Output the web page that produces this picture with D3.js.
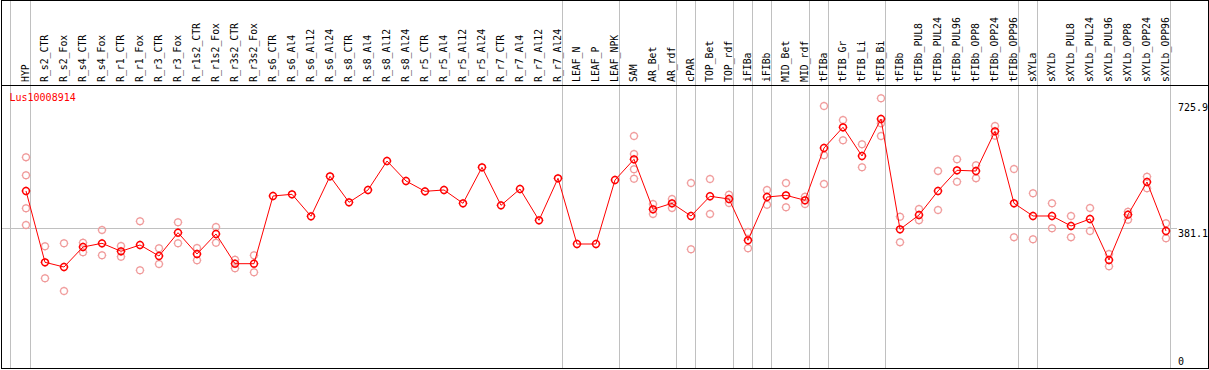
<!DOCTYPE html>
<html>
  <head>
    <meta charset="UTF-8" />
    <title>Lus10008914 expression</title>
    <script src="https://cdnjs.cloudflare.com/ajax/libs/d3/7.8.5/d3.min.js"></script>
    <style>
      body {
        margin: 0;
        padding: 0;
        background: #fff;
      }
      svg {
        display: block;
        font-family: "DejaVu Sans Mono", monospace;
      }
      .grid {
        stroke: #c0c0c0;
        stroke-width: 1px;
        shape-rendering: crispEdges;
      }
      .frame {
        stroke: #000;
        stroke-width: 1px;
        fill: none;
        shape-rendering: crispEdges;
      }
      .colLabel {
        font-size: 9.8px;
        fill: #000;
      }
      .tickLabel {
        font-size: 10px;
        fill: #000;
      }
    </style>
  </head>

  <body>
    <svg id="chart" width="1209" height="370"></svg>

    <script>
      // sample names, left to right
      const categories = [
        "HYP", "R_s2_CTR", "R_s2_Fox", "R_s4_CTR", "R_s4_Fox", "R_r1_CTR", "R_r1_Fox",
        "R_r3_CTR", "R_r3_Fox", "R_r1s2_CTR", "R_r1s2_Fox", "R_r3s2_CTR", "R_r3s2_Fox",
        "R_s6_CTR", "R_s6_Al4", "R_s6_Al12", "R_s6_Al24", "R_s8_CTR", "R_s8_Al4", "R_s8_Al12",
        "R_s8_Al24", "R_r5_CTR", "R_r5_Al4", "R_r5_Al12", "R_r5_Al24", "R_r7_CTR", "R_r7_Al4",
        "R_r7_Al12", "R_r7_Al24", "LEAF_N", "LEAF_P", "LEAF_NPK", "SAM", "AR_Bet", "AR_rdf",
        "cPAR", "TOP_Bet", "TOP_rdf", "iFIBa", "iFIBb", "MID_Bet", "MID_rdf", "tFIBa",
        "tFIB_Gr", "tFIB_Li", "tFIB_Bi", "tFIBb", "tFIBb_PUL8", "tFIBb_PUL24", "tFIBb_PUL96",
        "tFIBb_OPP8", "tFIBb_OPP24", "tFIBb_OPP96", "sXYLa", "sXYLb", "sXYLb_PUL8",
        "sXYLb_PUL24", "sXYLb_PUL96", "sXYLb_OPP8", "sXYLb_OPP24", "sXYLb_OPP96"
      ];

      // mean expression per sample
      const meanValues = [
        482.7, 287.1, 274.2, 329.1, 339.2, 317.3, 334.6, 304.4, 368.3, 309.9, 364.7, 283.3, 283.3,
        469.0, 473.6, 413.3, 523.0, 451.7, 485.4, 564.9, 510.1, 481.8, 485.4, 448.9, 547.7,
        443.4, 488.1, 402.3, 517.5, 337.3, 337.3, 512.8, 569.6, 432.5, 448.9, 414.1, 468.2,
        460.7, 347.5, 466.2, 470.9, 457.2, 600.6, 657.4, 578.6, 680.1, 377.6, 416.8, 482.7,
        539.4, 537.5, 646.4, 448.9, 414.1, 414.1, 386.7, 405.9, 293.4, 417.7, 507.3, 373.0
      ];

      // individual replicates (empty where only one replicate)
      const replicateValues = [
        [575.1, 525.7, 435.2, 389.4], [331.0, 243.3], [339.2, 208.4], [340.9, 314.6],
        [375.7, 306.3], [331.8, 302.5], [399.6, 265.2], [325.5, 282.5], [396.8, 339.2],
        [326.1, 292.6], [383.9, 340.9], [294.3, 270.7], [306.3, 259.7],
        [], [], [], [], [], [], [], [], [], [], [], [], [], [], [], [], [], [], [],
        [633.5, 584.1, 542.2, 516.4], [447.0, 419.6], [460.7, 436.0], [504.6, 322.8],
        [515.6, 419.6], [472.5, 449.8], [370.2, 325.5], [485.4, 445.1], [504.6, 438.0],
        [467.0, 447.0], [715.8, 580.6, 501.9], [677.4, 621.7], [610.7, 547.7],
        [736.9, 668.3, 633.5], [412.2, 342.0], [433.3, 402.3], [537.5, 430.6], [569.6, 508.2],
        [553.1, 517.5], [660.9, 634.3], [543.0, 355.7], [476.4, 350.2], [448.9, 380.4],
        [414.1, 355.7], [436.0, 373.0], [309.9, 276.2], [425.9, 404.0], [521.9, 490.1],
        [394.1, 353.0]
      ];

      // index of the last sample in each group (a separator is drawn after it)
      const groupEnds = [0, 28, 31, 34, 35, 37, 38, 39, 41, 42, 45, 52, 53, 60];

      const yTicks = [0, 381.1, 725.9];
      const gridTick = 381.1;
      const probeName = "Lus10008914";

      const svg = d3.select("#chart");
      const H = 369;
      const headerY = 85.5;

      const x = d3.scalePoint()
        .domain(categories)
        .range([26, 1166]);
      const step = x.step();

      const y = d3.scaleLinear()
        .domain([0, 725.9])
        .range([367, 102.3]);

      // vertical separators
      const sepX = [x(categories[0]) - step + 3.5].concat(groupEnds.map(i => x(categories[i]) + 4.5));
      svg.selectAll(".vsep")
        .data(sepX)
        .join("line")
        .attr("class", "grid vsep")
        .attr("x1", d => Math.floor(d) + 0.5)
        .attr("x2", d => Math.floor(d) + 0.5)
        .attr("y1", 0)
        .attr("y2", H);

      // horizontal reference line
      svg.append("line")
        .attr("class", "grid")
        .attr("x1", 1)
        .attr("x2", 1177)
        .attr("y1", Math.round(y(gridTick)) + 0.5)
        .attr("y2", Math.round(y(gridTick)) + 0.5);

      // column labels, rotated
      svg.selectAll(".colLabel")
        .data(categories)
        .join("text")
        .attr("class", "colLabel")
        .attr("transform", d => `translate(${x(d) + 3},82) rotate(-90)`)
        .text(d => d);

      // y tick labels on the right
      svg.selectAll(".tickLabel")
        .data(yTicks)
        .join("text")
        .attr("class", "tickLabel")
        .attr("x", 1178)
        .attr("y", d => Math.min(y(d) + 8.5, 365))
        .text(d => d === 0 ? "0" : d.toFixed(1));

      // frame + header separator
      svg.append("rect")
        .attr("class", "frame")
        .attr("x", 1.5)
        .attr("y", 0.5)
        .attr("width", 1207)
        .attr("height", 368);
      svg.append("line")
        .attr("class", "frame")
        .attr("x1", 1)
        .attr("x2", 1208)
        .attr("y1", headerY)
        .attr("y2", headerY);

      svg.append("text")
        .attr("x", 9.5)
        .attr("y", 101)
        .attr("font-size", 10)
        .attr("fill", "#ff0000")
        .text(probeName);

      // marker: small circle with nubs, like the original bitmap markers
      function marker(g, color, sw) {
        g.append("circle")
          .attr("r", 3.4)
          .attr("fill", "none")
          .attr("stroke", color)
          .attr("stroke-width", sw);
        g.append("path")
          .attr("d", "M0,-3.4L0,-4.4M0,3.4L0,4.4M-3.4,0L-4.4,0M3.4,0L4.4,0")
          .attr("stroke", color)
          .attr("stroke-width", 1);
      }

      // replicate points
      const reps = [];
      replicateValues.forEach((arr, i) => arr.forEach(v => reps.push({ c: categories[i], v })));
      svg.append("g").selectAll("g")
        .data(reps)
        .join("g")
        .attr("transform", d => `translate(${x(d.c)},${y(d.v)})`)
        .each(function() { marker(d3.select(this), "#f09a9a", 1.2); });

      // mean line
      const line = d3.line()
        .x((d, i) => x(categories[i]))
        .y(d => y(d));
      svg.append("path")
        .datum(meanValues)
        .attr("fill", "none")
        .attr("stroke", "#ff0000")
        .attr("stroke-width", 1)
        .attr("d", line);

      // mean points
      svg.append("g").selectAll("g")
        .data(meanValues)
        .join("g")
        .attr("transform", (d, i) => `translate(${x(categories[i])},${y(d)})`)
        .each(function() { marker(d3.select(this), "#ff0000", 1.5); });
    </script>
  </body>
</html>
